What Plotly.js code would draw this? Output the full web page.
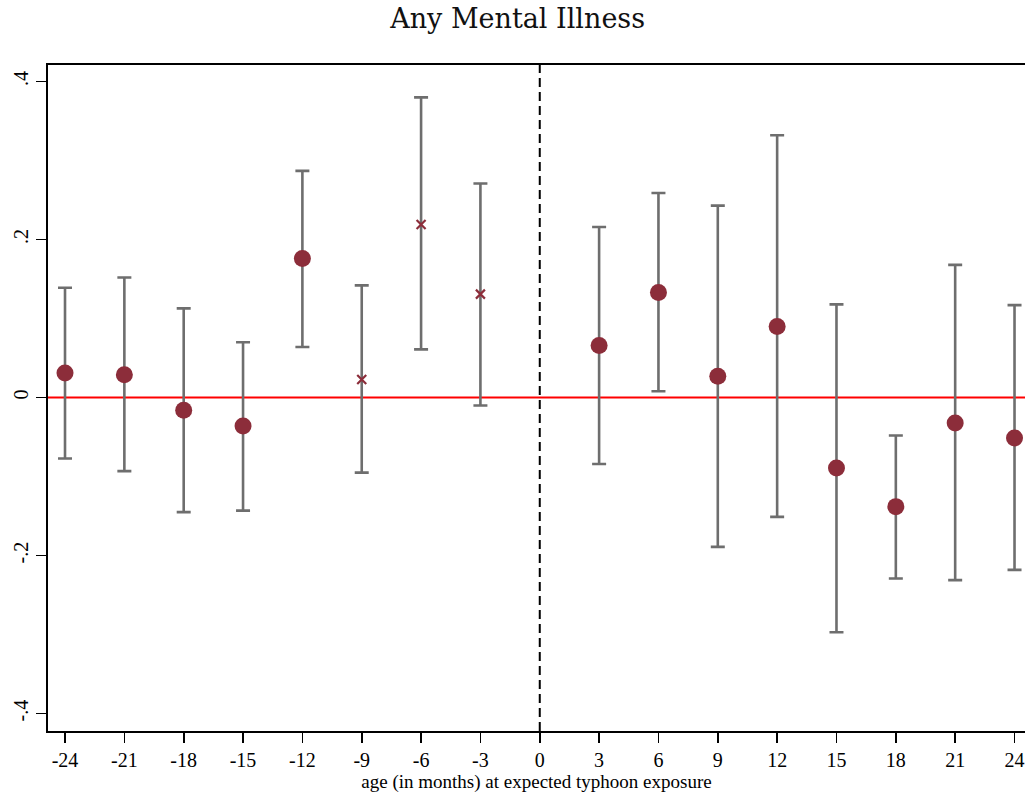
<!DOCTYPE html>
<html><head><meta charset="utf-8">
<script src="https://cdn.plot.ly/plotly-3.0.1.min.js"></script>
<style>body{margin:0;padding:0;background:#fff}</style>
</head><body>
<div id="chart" style="width:1025px;height:797px"></div>
<script>
// months relative to expected typhoon exposure
const months = [-24, -21, -18, -15, -12, -9, -6, -3, 3, 6, 9, 12, 15, 18, 21, 24];
const estimate = [0.031, 0.029, -0.016, -0.036, 0.176, 0.023, 0.219, 0.131, 0.066, 0.133, 0.027, 0.090, -0.089, -0.138, -0.032, -0.051];
const ciHigh = [0.139, 0.152, 0.113, 0.070, 0.287, 0.142, 0.380, 0.271, 0.216, 0.259, 0.243, 0.332, 0.118, -0.048, 0.168, 0.117];
const ciLow = [-0.077, -0.093, -0.145, -0.143, 0.064, -0.095, 0.061, -0.010, -0.084, 0.008, -0.189, -0.151, -0.297, -0.229, -0.231, -0.218];
// months drawn with an "x" marker instead of a dot
const crossMonths = [-9, -6, -3];
const xTicks = [-24, -21, -18, -15, -12, -9, -6, -3, 0, 3, 6, 9, 12, 15, 18, 21, 24];
const yTicks = [-0.4, -0.2, 0, 0.2, 0.4];
const yTickText = ['-.4', '-.2', '0', '.2', '.4'];

const dotX = [], dotY = [], crossX = [], crossY = [];
months.forEach((m, i) => {
  if (crossMonths.includes(m)) { crossX.push(m); crossY.push(estimate[i]); }
  else { dotX.push(m); dotY.push(estimate[i]); }
});

const maroon = '#8c2d3a';
const traces = [
  {
    x: months, y: estimate, type: 'scatter', mode: 'markers',
    marker: {size: 1, opacity: 0},
    error_y: {
      type: 'data', symmetric: false,
      array: ciHigh.map((h, i) => h - estimate[i]),
      arrayminus: estimate.map((e, i) => e - ciLow[i]),
      color: '#6e6e6e', thickness: 2.6, width: 7
    },
    hoverinfo: 'skip', showlegend: false
  },
  {
    x: dotX, y: dotY, type: 'scatter', mode: 'markers',
    marker: {symbol: 'circle', size: 17, color: maroon},
    showlegend: false
  },
  {
    x: crossX, y: crossY, type: 'scatter', mode: 'markers',
    marker: {symbol: 'x-thin', size: 9, color: maroon, line: {color: maroon, width: 2.2}},
    showlegend: false
  }
];

const tickFont = {family: 'Liberation Serif, Times New Roman, serif', size: 20, color: '#000'};
const layout = {
  width: 1025, height: 797,
  margin: {l: 48, r: 0, t: 65, b: 66},
  paper_bgcolor: '#fff', plot_bgcolor: '#fff',
  title: {text: 'Any Mental Illness', x: 0.505, xanchor: 'center', y: 0.977, yanchor: 'middle',
          font: {family: 'DejaVu Serif, Liberation Serif, serif', size: 27, color: '#111'}},
  xaxis: {
    range: [-24.86, 24.53], tickvals: xTicks, ticktext: xTicks.map(String),
    ticks: 'outside', ticklen: 10, tickwidth: 1.6, tickcolor: '#000',
    showline: true, linecolor: '#000', linewidth: 2, mirror: true,
    showgrid: false, zeroline: false, tickfont: tickFont,
    title: {text: 'age (in months) at expected typhoon exposure', standoff: 4,
            font: {family: 'Liberation Serif, Times New Roman, serif', size: 19, color: '#000'}}
  },
  yaxis: {
    range: [-0.422, 0.421], tickvals: yTicks, ticktext: yTickText, tickangle: -90,
    ticks: 'outside', ticklen: 10, tickwidth: 1.6, tickcolor: '#000',
    showline: true, linecolor: '#000', linewidth: 2,
    showgrid: false, zeroline: false, tickfont: tickFont
  },
  shapes: [
    {type: 'line', xref: 'paper', x0: 0, x1: 1, yref: 'y', y0: 0, y1: 0,
     line: {color: '#ff0000', width: 2}, layer: 'below'},
    {type: 'line', xref: 'x', x0: 0, x1: 0, yref: 'paper', y0: 0, y1: 1,
     line: {color: '#000', width: 2, dash: '9px,5px'}}
  ]
};
Plotly.newPlot('chart', traces, layout, {displayModeBar: false, staticPlot: true});
</script>
</body></html>
